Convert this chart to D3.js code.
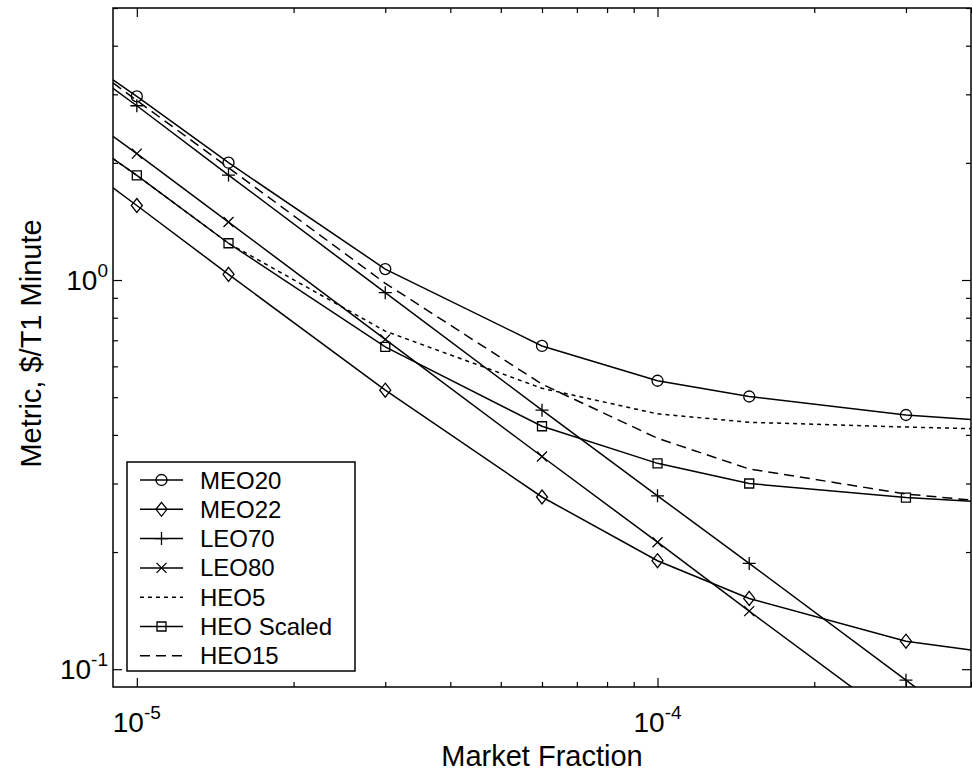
<!DOCTYPE html>
<html>
<head>
<meta charset="utf-8">
<script src="https://cdn.jsdelivr.net/npm/d3@7"></script>
<style>
    body { margin: 0; background: #fff; }
    svg { display: block; }
    text { font-family: "Liberation Sans", Arial, Helvetica, sans-serif; fill: #000; }
</style>
</head>
<body>
<div id="chart"></div>
<script>
// x positions of the samples; the first and last sit on the axis limits (no marker drawn there)
const lineX = [9e-6, 1e-5, 1.5e-5, 3e-5, 6e-5, 1e-4, 1.5e-4, 3e-4, 4e-4];
const markerX = [1e-5, 1.5e-5, 3e-5, 6e-5, 1e-4, 1.5e-4, 3e-4];

const seriesNames = ["MEO20", "MEO22", "LEO70", "LEO80", "HEO5", "HEO Scaled", "HEO15"];
const meo20     = [3.27, 2.963, 2.002, 1.067, 0.677, 0.551, 0.502, 0.450, 0.438];
const meo22     = [1.725, 1.554, 1.034, 0.521, 0.277, 0.190, 0.152, 0.118, 0.112];
const leo70     = [3.11, 2.804, 1.861, 0.928, 0.463, 0.279, 0.187, 0.0937, 0.0705];
const leo80     = [2.34, 2.112, 1.409, 0.704, 0.352, 0.212, 0.141, 0.0709, 0.0536];
const heo5      = [2.05, 1.857, 1.243, 0.739, 0.527, 0.453, 0.431, 0.419, 0.415];
const heoScaled = [2.05, 1.857, 1.243, 0.673, 0.421, 0.338, 0.300, 0.276, 0.270];
const heo15     = [3.21, 2.893, 1.944, 0.981, 0.540, 0.392, 0.327, 0.282, 0.272];

const xMajorTicks = [1e-5, 1e-4];
const xMinorTicks = [2e-5, 3e-5, 4e-5, 5e-5, 6e-5, 7e-5, 8e-5, 9e-5, 2e-4, 3e-4, 4e-4];
const yMajorTicks = [0.1, 1];
const yMinorTicks = [0.2, 0.3, 0.4, 0.5, 0.6, 0.7, 0.8, 0.9, 2, 3, 4, 5];
const xTickExp = ["-5", "-4"];
const yTickExp = ["-1", "0"];

const xTitle = "Market Fraction";
const yTitle = "Metric, $/T1 Minute";

const seriesValues = [meo20, meo22, leo70, leo80, heo5, heoScaled, heo15];

// marker / dash per series (styling kept apart from the data)
const styles = [
    {marker: "o", dash: null},
    {marker: "d", dash: null},
    {marker: "+", dash: null},
    {marker: "x", dash: null},
    {marker: null, dash: "4,4"},
    {marker: "s", dash: null},
    {marker: null, dash: "10,6"}
];

const config = {
    containerWidth: 972,
    containerHeight: 771,
    margin: {top: 8, right: 1, bottom: 84, left: 113}
};

const width = config.containerWidth - config.margin.left - config.margin.right;
const height = config.containerHeight - config.margin.top - config.margin.bottom;

const svg = d3.select("#chart")
    .append("svg")
    .attr("width", config.containerWidth)
    .attr("height", config.containerHeight);

svg.append("rect")
    .attr("width", config.containerWidth)
    .attr("height", config.containerHeight)
    .attr("fill", "#fff");

const chart = svg.append("g")
    .attr("transform", `translate(${config.margin.left},${config.margin.top})`);

const xScale = d3.scaleLog().domain([9e-6, 4e-4]).range([0, width]);
const yScale = d3.scaleLog().domain([0.09, 5]).range([height, 0]);

chart.append("clipPath")
    .attr("id", "plot-clip")
    .append("rect")
    .attr("width", width)
    .attr("height", height);

// axes with inward ticks on all four sides
const majorLen = 9, minorLen = 5;
const xAll = xMajorTicks.concat(xMinorTicks);
const yAll = yMajorTicks.concat(yMinorTicks);

function styleTicks(g, majors, sign, horizontal) {
    g.select(".domain").remove();
    g.selectAll(".tick line")
        .attr("stroke", "#000")
        .attr("stroke-width", 1.2)
        .attr(horizontal ? "y2" : "x2", d => sign * (majors.includes(d) ? majorLen : minorLen));
}

chart.append("g")
    .attr("transform", `translate(0,${height})`)
    .call(d3.axisBottom(xScale).tickValues(xAll).tickFormat("").tickSizeOuter(0))
    .call(g => styleTicks(g, xMajorTicks, -1, true));

chart.append("g")
    .call(d3.axisTop(xScale).tickValues(xAll).tickFormat("").tickSizeOuter(0))
    .call(g => styleTicks(g, xMajorTicks, 1, true));

chart.append("g")
    .call(d3.axisLeft(yScale).tickValues(yAll).tickFormat("").tickSizeOuter(0))
    .call(g => styleTicks(g, yMajorTicks, 1, false));

chart.append("g")
    .attr("transform", `translate(${width},0)`)
    .call(d3.axisRight(yScale).tickValues(yAll).tickFormat("").tickSizeOuter(0))
    .call(g => styleTicks(g, yMajorTicks, -1, false));

chart.append("rect")
    .attr("width", width)
    .attr("height", height)
    .attr("fill", "none")
    .attr("stroke", "#000")
    .attr("stroke-width", 1.5);

// tick labels as 10 with a superscript exponent
const xLabels = chart.selectAll(".x-label")
    .data(xMajorTicks)
    .join("text")
    .attr("class", "x-label")
    .attr("x", d => xScale(d))
    .attr("y", height + 45)
    .attr("text-anchor", "middle")
    .attr("font-size", 28);
xLabels.append("tspan").text("10");
xLabels.append("tspan").attr("dy", -13).attr("font-size", 19).text((d, i) => xTickExp[i]);

const yLabels = chart.selectAll(".y-label")
    .data(yMajorTicks)
    .join("text")
    .attr("class", "y-label")
    .attr("x", -5)
    .attr("y", d => yScale(d) + 10)
    .attr("text-anchor", "end")
    .attr("font-size", 28);
yLabels.append("tspan").text("10");
yLabels.append("tspan").attr("dy", -13).attr("font-size", 19).text((d, i) => yTickExp[i]);

chart.append("text")
    .attr("x", width / 2)
    .attr("y", height + 79)
    .attr("text-anchor", "middle")
    .attr("font-size", 29)
    .text(xTitle);

chart.append("text")
    .attr("transform", `translate(${41 - config.margin.left},${height / 2 - 4}) rotate(-90)`)
    .attr("text-anchor", "middle")
    .attr("font-size", 29)
    .text(yTitle);

// marker shapes
function markerPath(type) {
    const p = d3.path();
    if (type === "o") {
        p.moveTo(5.5, 0);
        p.arc(0, 0, 5.5, 0, 2 * Math.PI);
    } else if (type === "d") {
        p.moveTo(0, -7); p.lineTo(5.5, 0); p.lineTo(0, 7); p.lineTo(-5.5, 0); p.closePath();
    } else if (type === "+") {
        p.moveTo(-6.5, 0); p.lineTo(6.5, 0); p.moveTo(0, -6.5); p.lineTo(0, 6.5);
    } else if (type === "x") {
        p.moveTo(-5, -5); p.lineTo(5, 5); p.moveTo(-5, 5); p.lineTo(5, -5);
    } else if (type === "s") {
        p.rect(-4.5, -4.5, 9, 9);
    }
    return p.toString();
}

const plot = chart.append("g").attr("clip-path", "url(#plot-clip)");

const line = d3.line()
    .x(d => xScale(d.x))
    .y(d => yScale(d.y));

seriesValues.forEach((vals, i) => {
    const pts = lineX.map((x, j) => ({x: x, y: vals[j]}));
    plot.append("path")
        .datum(pts)
        .attr("d", line)
        .attr("fill", "none")
        .attr("stroke", "#000")
        .attr("stroke-width", 1.5)
        .attr("stroke-dasharray", styles[i].dash);

    if (styles[i].marker) {
        plot.selectAll(null)
            .data(pts.filter(d => markerX.includes(d.x)))
            .join("path")
            .attr("transform", d => `translate(${xScale(d.x)},${yScale(d.y)})`)
            .attr("d", markerPath(styles[i].marker))
            .attr("fill", "none")
            .attr("stroke", "#000")
            .attr("stroke-width", 1.3);
    }
});

// legend
const legend = chart.append("g")
    .attr("transform", `translate(${127 - config.margin.left},${462 - config.margin.top})`);

legend.append("rect")
    .attr("width", 228)
    .attr("height", 209)
    .attr("fill", "#fff")
    .attr("stroke", "#000")
    .attr("stroke-width", 1.5);

const rows = legend.selectAll(".legend-row")
    .data(seriesNames)
    .join("g")
    .attr("class", "legend-row")
    .attr("transform", (d, i) => `translate(0,${18 + i * 29.3})`);

rows.append("line")
    .attr("x1", 13)
    .attr("x2", 56)
    .attr("stroke", "#000")
    .attr("stroke-width", 1.5)
    .attr("stroke-dasharray", (d, i) => styles[i].dash);

rows.filter((d, i) => styles[i].marker)
    .append("path")
    .attr("transform", "translate(34.5,0)")
    .attr("d", (d) => markerPath(styles[seriesNames.indexOf(d)].marker))
    .attr("fill", "none")
    .attr("stroke", "#000")
    .attr("stroke-width", 1.3);

rows.append("text")
    .attr("x", 73)
    .attr("y", 8.5)
    .attr("font-size", 24)
    .text(d => d);
</script>
</body>
</html>
